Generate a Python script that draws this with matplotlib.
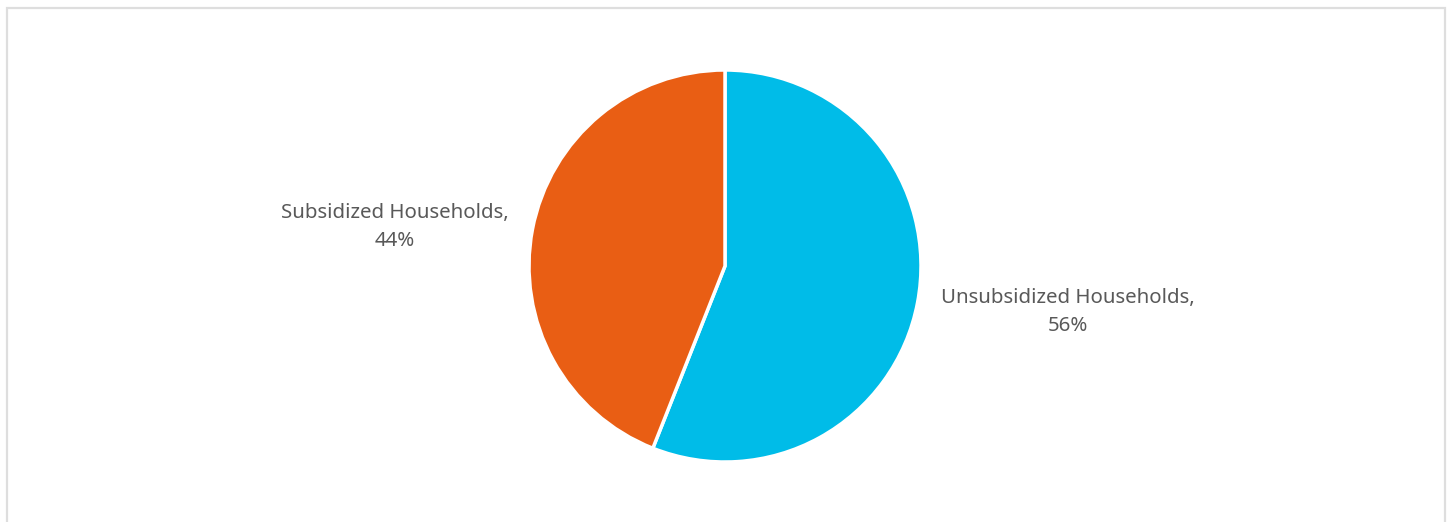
import matplotlib.pyplot as plt

categories = ['Unsubsidized Households', 'Subsidized Households']
shares = [56, 44]
colors = ['#00BCE8', '#E95E14']

W, H = 1449, 522
plt.rcParams['font.family'] = ['Noto Sans', 'DejaVu Sans']

fig = plt.figure(figsize=(W / 100, H / 100), dpi=100)
ax = fig.add_axes([0, 0, 1, 1])

# chart frame (bottom edge runs off the canvas)
ax.plot([6.5, 6.5, 1444.5, 1444.5], [-5, H - 7.5, H - 7.5, -5],
        color='#dedede', lw=1.6, solid_joinstyle='miter')

ax.pie(shares, colors=colors, startangle=90, counterclock=False,
       center=(725, H - 266), radius=196, frame=True,
       wedgeprops=dict(edgecolor='white', linewidth=2.5))
ax.set_xlim(0, W)
ax.set_ylim(0, H)
ax.set_aspect('equal')
ax.axis('off')

label_pos = [(1068, H - 312), (395, H - 227)]
for name, val, (x, y) in zip(categories, shares, label_pos):
    ax.text(x, y, f'{name},\n{val}%', ha='center', va='center',
            fontsize=14.7, color='#595959', linespacing=1.48)

fig.savefig('out.png', dpi=100)
